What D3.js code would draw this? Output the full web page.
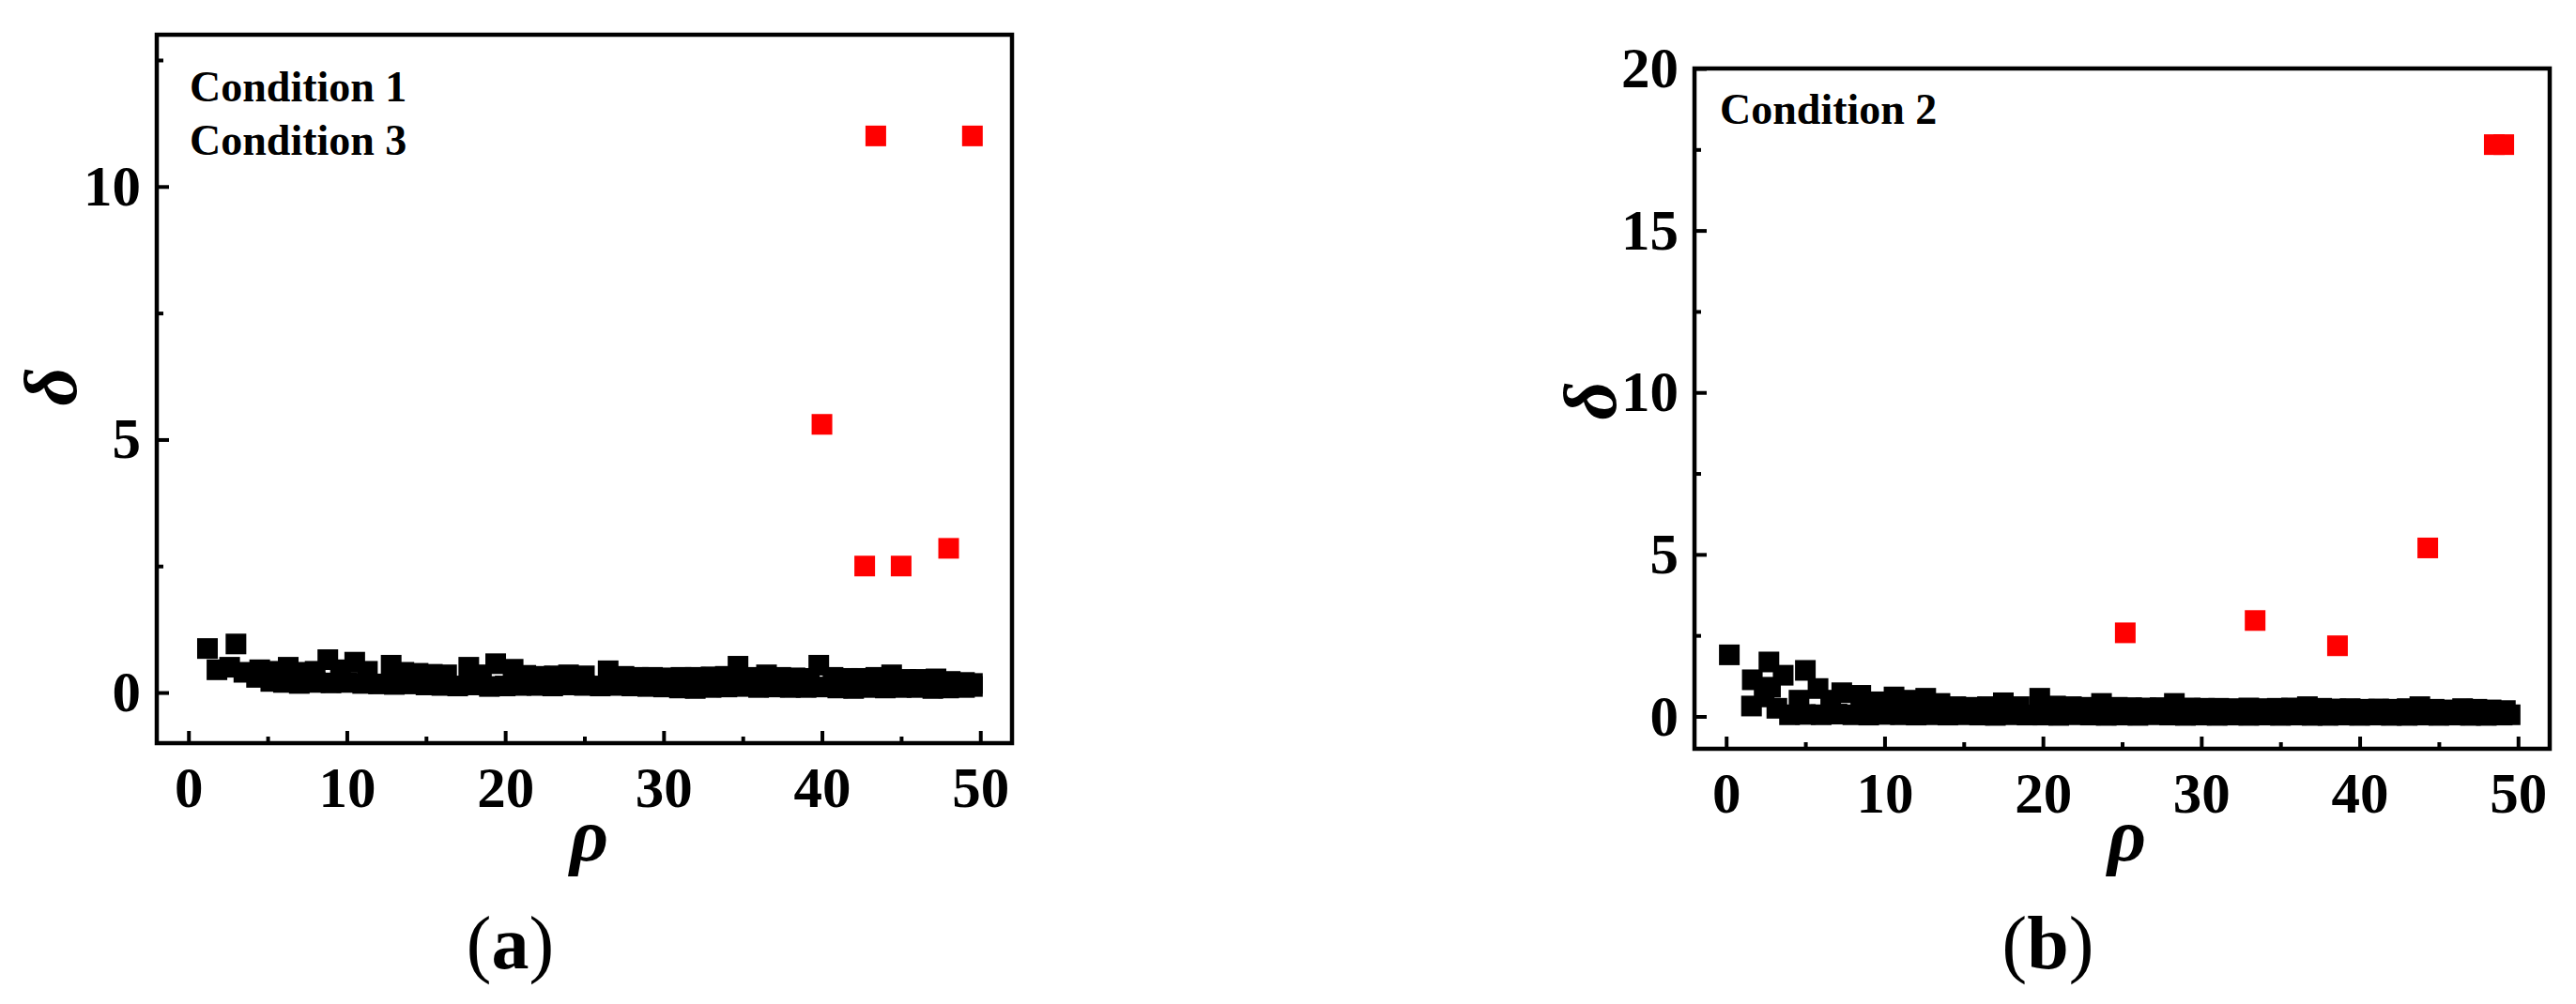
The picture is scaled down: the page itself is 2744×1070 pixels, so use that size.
<!DOCTYPE html>
<html>
<head>
<meta charset="utf-8">
<script src="https://cdn.jsdelivr.net/npm/d3@7"></script>
<style>
  body { margin: 0; background: #fff; }
  text { font-family: "Liberation Serif", "Times New Roman", serif; }
</style>
</head>
<body>
<div class="chart"></div>
<script>
// Panel (a): Condition 1 / Condition 3
const rhoA = [1.8, 2.6, 3.5, 4.3, 5.2, 6, 7, 8, 9, 10, 11, 12, 13, 14, 15, 16, 17, 18, 19, 20,
  21, 22, 23, 24, 25, 26, 27, 28, 29, 30, 31, 32, 33, 34, 35, 36, 37, 38, 39, 40,
  41, 42, 43, 44, 45, 46, 47, 48, 49, 49.5,
  1.2, 3.0, 4.5, 5.5, 6.3, 7.2, 8.0, 8.8, 9.6, 10.5, 11.3, 12.8, 13.6, 14.5, 15.4, 16.3,
  17.7, 18.5, 19.4, 20.5, 21.3, 22.2, 23.1, 24.0, 25.0, 26.5, 27.5, 28.4, 29.3, 30.2,
  31.1, 32.0, 33.0, 33.9, 34.7, 35.6, 36.5, 37.4, 38.3, 39.2, 39.8, 40.7, 41.6, 42.5,
  43.4, 44.4, 45.3, 46.2, 47.2, 48.1, 49.0, 49.5];
const deltaA = [0.45, 0.5, 0.4, 0.3, 0.22, 0.2, 0.18, 0.2, 0.19, 0.2, 0.18, 0.17, 0.16, 0.17, 0.15, 0.14, 0.13, 0.15, 0.12, 0.13,
  0.14, 0.14, 0.13, 0.15, 0.14, 0.13, 0.14, 0.13, 0.12, 0.11, 0.09, 0.08, 0.1, 0.11, 0.12, 0.1, 0.11, 0.1, 0.1, 0.11,
  0.09, 0.08, 0.1, 0.09, 0.1, 0.1, 0.08, 0.09, 0.1, 0.12,
  0.87, 0.96, 0.45, 0.42, 0.5, 0.4, 0.42, 0.65, 0.45, 0.6, 0.42, 0.54, 0.4, 0.38, 0.36, 0.35,
  0.5, 0.35, 0.57, 0.46, 0.34, 0.32, 0.33, 0.35, 0.33, 0.43, 0.32, 0.3, 0.3, 0.29,
  0.3, 0.3, 0.31, 0.32, 0.52, 0.3, 0.35, 0.3, 0.29, 0.28, 0.54, 0.3, 0.28, 0.28,
  0.3, 0.35, 0.26, 0.26, 0.27, 0.22, 0.2, 0.18];
const rhoAOut = [40.0, 42.7, 43.4, 45.0, 48.0, 49.5];
const deltaAOut = [5.3, 2.5, 11.0, 2.5, 2.85, 11.0];

// Panel (b): Condition 2
const rhoB = [0.2, 1.65, 2.7, 3.6, 5.0, 1.6, 2.4, 2.8, 3.2, 4.0, 4.6, 5.8, 6.6, 7.3, 8.5, 9.5, 10.6, 11.5, 12.6, 13.5,
  5, 6, 7, 8, 9, 10, 11, 12, 13, 14, 15, 16, 17, 18, 19, 20, 21, 22, 23, 24,
  25, 26, 27, 28, 29, 30, 31, 32, 33, 34, 35, 36, 37, 38, 39, 40, 41, 42, 43, 44,
  45, 46, 47, 48, 49, 49.5,
  14.5, 15.5, 16.5, 17.5, 18.5, 19.8, 20.8, 21.8, 22.8, 23.7, 24.7, 25.6, 26.5, 27.4, 28.3,
  29.3, 30.2, 31.1, 32.0, 33.0, 33.9, 34.8, 35.7, 36.7, 37.6, 38.5, 39.4, 40.3, 41.2,
  42.1, 43.0, 43.8, 44.7, 45.6, 46.5, 47.4, 48.3, 49.2];
const deltaB = [1.9, 1.13, 1.68, 1.27, 1.42, 0.32, 0.6, 0.9, 0.25, 0.05, 0.5, 0.86, 0.5, 0.73, 0.65, 0.45, 0.6, 0.5, 0.56, 0.4,
  0.06, 0.05, 0.07, 0.05, 0.04, 0.06, 0.05, 0.04, 0.05, 0.04, 0.05, 0.04, 0.03, 0.05, 0.04, 0.04, 0.03, 0.05, 0.04, 0.03,
  0.04, 0.03, 0.05, 0.04, 0.03, 0.04, 0.03, 0.04, 0.03, 0.04, 0.03, 0.04, 0.03, 0.03, 0.04, 0.03, 0.04, 0.03, 0.03, 0.04,
  0.03, 0.04, 0.03, 0.03, 0.04, 0.05,
  0.3, 0.28, 0.3, 0.42, 0.3, 0.56, 0.32, 0.3, 0.28, 0.4, 0.28, 0.27, 0.26, 0.27, 0.4,
  0.26, 0.25, 0.25, 0.24, 0.26, 0.24, 0.25, 0.26, 0.3, 0.25, 0.23, 0.24, 0.22, 0.23,
  0.22, 0.24, 0.3, 0.22, 0.2, 0.24, 0.22, 0.2, 0.18];
const rhoBOut = [25.2, 33.4, 38.6, 44.3, 48.5, 49.1];
const deltaBOut = [2.58, 2.96, 2.18, 5.2, 17.65, 17.65];

// Axis ticks
const xTicks = [0, 10, 20, 30, 40, 50];
const xMinor = [5, 15, 25, 35, 45];
const yTicksA = [0, 5, 10];
const yMinorA = [2.5, 7.5, 12.5];
const yTicksB = [0, 5, 10, 15, 20];
const yMinorB = [2.5, 7.5, 12.5, 17.5];

const W = 2744, H = 1070;
const svg = d3
  .select(".chart")
  .append("svg")
  .attr("width", W)
  .attr("height", H);

svg.append("rect").attr("width", W).attr("height", H).attr("fill", "#fff");

function drawPanel(p) {
  const xScale = d3.scaleLinear().domain([-2, 52]).range([p.left, p.right]);
  const yScale = d3.scaleLinear().domain(p.yDomain).range([p.bottom, p.top]);
  const g = svg.append("g");

  // points: black first, red on top
  const pts = d3.zip(p.rho, p.delta);
  const out = d3.zip(p.rhoOut, p.deltaOut);
  const s = 22;
  g.append("g")
    .selectAll("rect")
    .data(pts)
    .enter()
    .append("rect")
    .attr("x", (d) => xScale(d[0]) - s / 2)
    .attr("y", (d) => yScale(d[1]) - s / 2)
    .attr("width", s)
    .attr("height", s)
    .attr("fill", "#000");
  g.append("g")
    .selectAll("rect")
    .data(out)
    .enter()
    .append("rect")
    .attr("x", (d) => xScale(d[0]) - s / 2)
    .attr("y", (d) => yScale(d[1]) - s / 2)
    .attr("width", s)
    .attr("height", s)
    .attr("fill", "#ff0000");

  // x axis (ticks point inward)
  g.append("g")
    .attr("transform", `translate(0,${p.bottom})`)
    .call(d3.axisBottom(xScale).tickValues(xTicks).tickSize(-13).tickPadding(25));
  g.append("g")
    .attr("transform", `translate(0,${p.bottom})`)
    .call(d3.axisBottom(xScale).tickValues(xMinor).tickSize(-7).tickFormat(""));

  g.append("g")
    .attr("transform", `translate(${p.left},0)`)
    .call(d3.axisLeft(yScale).tickValues(p.yTicks).tickSize(-13).tickPadding(17));
  g.append("g")
    .attr("transform", `translate(${p.left},0)`)
    .call(d3.axisLeft(yScale).tickValues(p.yMinor).tickSize(-7).tickFormat(""));

  g.selectAll(".domain").remove();
  g.selectAll(".tick line").attr("stroke", "#000").attr("stroke-width", 4);
  g.selectAll(".tick text")
    .attr("fill", "#000")
    .attr("font-size", 61)
    .attr("font-weight", "bold")
    .style("font-family", '"Liberation Serif", serif');

  // frame
  g.append("rect")
    .attr("x", p.left)
    .attr("y", p.top)
    .attr("width", p.right - p.left)
    .attr("height", p.bottom - p.top)
    .attr("fill", "none")
    .attr("stroke", "#000")
    .attr("stroke-width", 4.5);

  // condition labels
  p.notes.forEach((t, i) => {
    g.append("text")
      .attr("x", p.noteX)
      .attr("y", p.noteY + i * 57)
      .attr("font-size", 46)
      .attr("font-weight", "bold")
      .text(t);
  });

  // axis titles
  g.append("text")
    .attr("x", (p.left + p.right) / 2 + 5)
    .attr("y", 917)
    .attr("text-anchor", "middle")
    .attr("font-size", 80)
    .attr("font-weight", "bold")
    .attr("font-style", "italic")
    .text("ρ");
  g.append("text")
    .attr("transform", `translate(${p.deltaX},${p.deltaY}) rotate(-90)`)
    .attr("text-anchor", "middle")
    .attr("font-size", 80)
    .attr("font-weight", "bold")
    .attr("font-style", "italic")
    .text("δ");

  // panel letter
  const lab = g
    .append("text")
    .attr("x", (p.left + p.right) / 2 - 79)
    .attr("y", 1032)
    .attr("text-anchor", "middle")
    .attr("font-size", 80);
  lab.append("tspan").text("(");
  lab.append("tspan").attr("font-weight", "bold").text(p.letter);
  lab.append("tspan").text(")");
}

drawPanel({
  left: 167, right: 1078, top: 37, bottom: 792,
  yDomain: [-1, 13], yTicks: yTicksA, yMinor: yMinorA,
  rho: rhoA, delta: deltaA, rhoOut: rhoAOut, deltaOut: deltaAOut,
  notes: ["Condition 1", "Condition 3"], noteX: 202, noteY: 108,
  deltaX: 81, deltaY: 412, letter: "a"
});

drawPanel({
  left: 1805, right: 2716, top: 73, bottom: 798,
  yDomain: [-1, 20], yTicks: yTicksB, yMinor: yMinorB,
  rho: rhoB, delta: deltaB, rhoOut: rhoBOut, deltaOut: deltaBOut,
  notes: ["Condition 2"], noteX: 1832, noteY: 132,
  deltaX: 1721, deltaY: 427, letter: "b"
});
</script>
</body>
</html>
